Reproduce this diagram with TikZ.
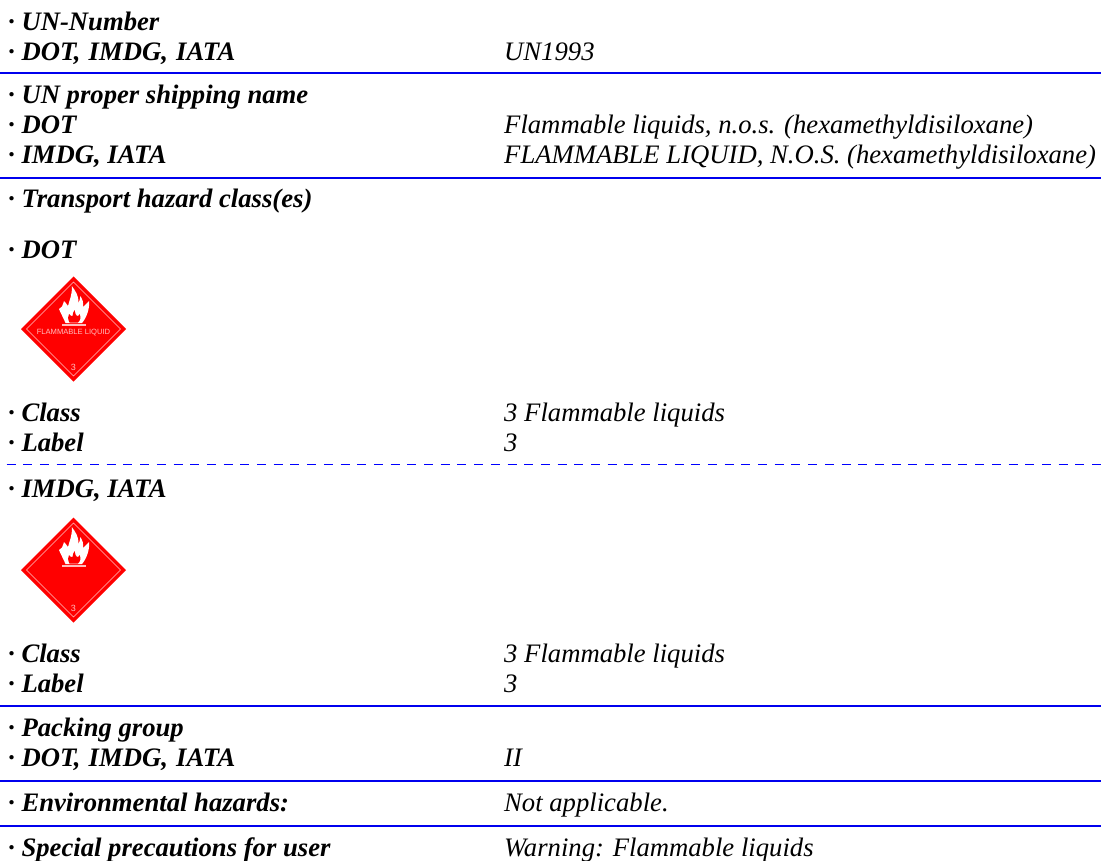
\documentclass[tikz,border=0pt]{standalone}
\usepackage{fontspec}
\setmainfont{Liberation Serif}
\newfontfamily\sansf{Liberation Sans}
\definecolor{rulebl}{RGB}{0,0,238}
\definecolor{pink}{RGB}{255,190,190}
\tikzset{x=1pt,y=-1pt,
 lab/.style={anchor=base west,inner sep=0pt,font=\fontsize{26.67}{30}\selectfont\bfseries\itshape},
 val/.style={anchor=base west,inner sep=0pt,font=\fontsize{26.67}{30}\selectfont\itshape},
 sep/.style={draw=rulebl,line width=2pt},
 dsep/.style={draw=blue,line width=1pt,dash pattern=on 9pt off 7.7pt},
 pl/.style={text=pink,inner sep=0pt,anchor=center}}
\newcommand{\placard}[1]{%
 \fill[red] (-52.5,0)--(0,-52.5)--(52.5,0)--(0,52.5)--cycle;
 \draw[pink,line width=.6pt] (-47,0)--(0,-47)--(47,0)--(0,47)--cycle;
 \fill[white] (-14.5,-20) .. controls (-12,-20.5) and (-11,-23) .. (-9.5,-28)
  .. controls (-8,-26) and (-6.5,-25) .. (-5.5,-23)
  .. controls (-4,-29) and (-1,-35) .. (-1.7,-43)
  .. controls (2,-38) and (5.5,-33) .. (5,-26)
  .. controls (6,-28) and (6.5,-30) .. (7,-33)
  .. controls (9,-30) and (10,-27) .. (9.5,-22)
  .. controls (11,-23.5) and (13,-25.5) .. (15.5,-28)
  .. controls (16.5,-21) and (13,-11) .. (8.5,-6)
  -- (-8,-6) .. controls (-10,-11) and (-13,-16) .. (-14.5,-20) -- cycle;
 \fill[red] (-4,-6.5) .. controls (-6,-10) and (-5.5,-13) .. (-4.5,-15) .. controls (-3.5,-13) and (-2,-13) .. (-1,-13)
  .. controls (-1,-15) and (0,-17) .. (1,-19) .. controls (1,-16) and (3,-13) .. (4,-13) .. controls (5,-13) and (6,-14) .. (6,-15)
  .. controls (8,-12) and (6.5,-8) .. (4.5,-6.5) -- cycle;
 \fill[pink] (-11.5,-4.8) rectangle (12.5,-3.4);
 \node[pl,font=\fontsize{9}{9}\selectfont\sansf] at (0,38) {3};
 #1}
\begin{document}
\begin{tikzpicture}
\useasboundingbox (0,0) rectangle (1101,861);
\node[lab] (a1) at (8,30.5) {\textperiodcentered{} UN-Number};
\node[lab] (a2) at (8,60.5) {\textperiodcentered{} DOT,\kern1.5pt{} IMDG,\kern1.5pt{} IATA};
\node[val] (a3) at (504,60.5) {UN1993};
\coordinate (r1a) at (0,73); \coordinate (r1b) at (1101,73);
\draw[sep] (r1a) -- (r1b);
\node[lab] (b1) at (8,104) {\textperiodcentered{} UN proper shipping name};
\node[lab] (b2) at (8,134) {\textperiodcentered{} DOT};
\node[val] (b3) at (504,134) {Flammable liquids, n.o.s. (hexamethyldisiloxane)};
\node[lab] (b4) at (8,164) {\textperiodcentered{} IMDG, IATA};
\node[val] (b5) at (504,164) {FLAMMABLE LIQUID, N.O.S. (hexamethyldisiloxane)};
\coordinate (r2a) at (0,178); \coordinate (r2b) at (1101,178);
\draw[sep] (r2a) -- (r2b);
\node[lab] (c1) at (8,208) {\textperiodcentered{} Transport hazard class(es)};
\node[lab] (c2) at (8,259) {\textperiodcentered{} DOT};
\begin{scope}[shift={(73.5,329)}]
\placard{\node[pl,font=\fontsize{7.6}{9}\selectfont\sansf] (f1) at (0,4) {FLAMMABLE LIQUID};}
\end{scope}
\node[lab] (c3) at (8,421) {\textperiodcentered{} Class};
\node[val] (c4) at (504,421) {3 Flammable liquids};
\node[lab] (c5) at (8,451) {\textperiodcentered{} Label};
\node[val] (c6) at (504,451) {3};
\coordinate (r3a) at (6.5,464); \coordinate (r3b) at (1101,464);
\draw[dsep] (r3a) -- (r3b);
\node[lab] (d1) at (8,497) {\textperiodcentered{} IMDG, IATA};
\begin{scope}[shift={(73.5,570)}]
\placard{}
\end{scope}
\node[lab] (d2) at (8,662) {\textperiodcentered{} Class};
\node[val] (d3) at (504,662) {3 Flammable liquids};
\node[lab] (d4) at (8,692) {\textperiodcentered{} Label};
\node[val] (d5) at (504,692) {3};
\coordinate (r4a) at (0,706); \coordinate (r4b) at (1101,706);
\draw[sep] (r4a) -- (r4b);
\node[lab] (e1) at (8,736) {\textperiodcentered{} Packing group};
\node[lab] (e2) at (8,766) {\textperiodcentered{} DOT,\kern1.5pt{} IMDG,\kern1.5pt{} IATA};
\node[val] (e3) at (504,766) {II};
\coordinate (r5a) at (0,780.7); \coordinate (r5b) at (1101,780.7);
\draw[sep] (r5a) -- (r5b);
\node[lab] (g1) at (8,811) {\textperiodcentered{} Environmental hazards:};
\node[val] (g2) at (504,811) {Not applicable.};
\coordinate (r6a) at (0,825.7); \coordinate (r6b) at (1101,825.7);
\draw[sep] (r6a) -- (r6b);
\node[lab] (h1) at (8,856) {\textperiodcentered{} Special precautions for user};
\node[val] (h2) at (504,856) {Warning: Flammable liquids};
\end{tikzpicture}
\end{document}
